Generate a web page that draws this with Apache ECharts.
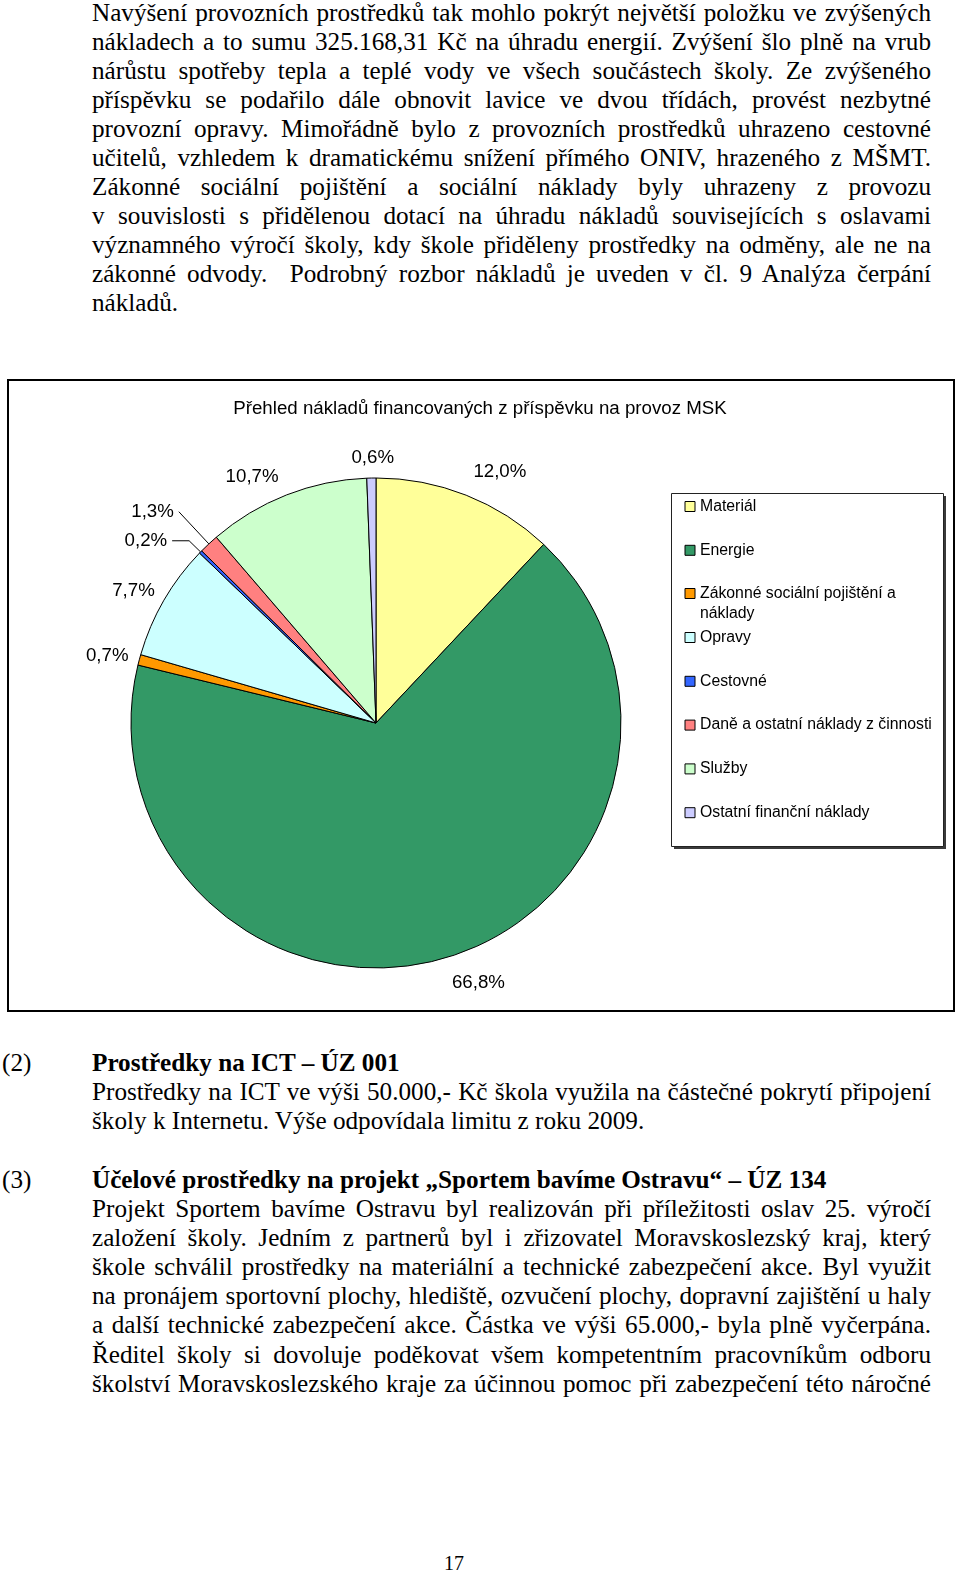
<!DOCTYPE html>
<html><head><meta charset="utf-8">
<script src="https://cdn.jsdelivr.net/npm/echarts@6/dist/echarts.min.js"></script>
<style>
html,body{margin:0;padding:0;background:#fff;}
body{width:960px;height:1574px;position:relative;overflow:hidden;font-family:"Liberation Serif","Times New Roman",serif;color:#000;}
.blk{position:absolute;left:92px;width:839px;font-size:25.2px;line-height:29.1px;}
.ln{height:29.1px;text-align:justify;text-align-last:justify;}
.last{text-align:left;text-align-last:left;}
.num{position:absolute;left:2px;font-size:25.2px;line-height:29.1px;}
h3{margin:0;font-size:25.2px;line-height:29.1px;font-weight:bold;}
#pg{position:absolute;left:0;width:908px;text-align:center;font-size:20px;line-height:24px;}
#chart{position:absolute;left:0;top:370px;width:960px;height:660px;}
</style></head>
<body>
<div class="blk" style="top:-2.5px">
<div class="ln">Navýšení provozních prostředků tak mohlo pokrýt největší položku ve zvýšených</div>
<div class="ln">nákladech a to sumu 325.168,31 Kč na úhradu energií. Zvýšení šlo plně na vrub</div>
<div class="ln">nárůstu spotřeby tepla a teplé vody ve všech součástech školy. Ze zvýšeného</div>
<div class="ln">příspěvku se podařilo dále obnovit lavice ve dvou třídách, provést nezbytné</div>
<div class="ln">provozní opravy. Mimořádně bylo z provozních prostředků uhrazeno cestovné</div>
<div class="ln">učitelů, vzhledem k dramatickému snížení přímého ONIV, hrazeného z MŠMT.</div>
<div class="ln">Zákonné sociální pojištění a sociální náklady byly uhrazeny z provozu</div>
<div class="ln">v souvislosti s přidělenou dotací na úhradu nákladů souvisejících s oslavami</div>
<div class="ln">významného výročí školy, kdy škole přiděleny prostředky na odměny, ale ne na</div>
<div class="ln">zákonné odvody. &nbsp;Podrobný rozbor nákladů je uveden v čl. 9 Analýza čerpání</div>
<div class="ln last">nákladů.</div>
</div>

<div class="num" style="top:1048px">(2)</div>
<div class="blk" style="top:1048px">
<h3>Prostředky na ICT – ÚZ 001</h3>
<div class="ln">Prostředky na ICT ve výši 50.000,- Kč škola využila na částečné pokrytí připojení</div>
<div class="ln last">školy k Internetu. Výše odpovídala limitu z roku 2009.</div>
</div>

<div class="num" style="top:1165px">(3)</div>
<div class="blk" style="top:1165px">
<h3>Účelové prostředky na projekt „Sportem bavíme Ostravu“ – ÚZ 134</h3>
<div class="ln">Projekt Sportem bavíme Ostravu byl realizován při příležitosti oslav 25. výročí</div>
<div class="ln">založení školy. Jedním z partnerů byl i zřizovatel Moravskoslezský kraj, který</div>
<div class="ln">škole schválil prostředky na materiální a technické zabezpečení akce. Byl využit</div>
<div class="ln">na pronájem sportovní plochy, hlediště, ozvučení plochy, dopravní zajištění u haly</div>
<div class="ln">a další technické zabezpečení akce. Částka ve výši 65.000,- byla plně vyčerpána.</div>
<div class="ln">Ředitel školy si dovoluje poděkovat všem kompetentním pracovníkům odboru</div>
<div class="ln">školství Moravskoslezského kraje za účinnou pomoc při zabezpečení této náročné</div>
</div>

<div id="pg" style="top:1551px">17</div>

<div id="chart"></div>
<script>
// ---- data ----
const chartTitle = 'Přehled nákladů financovaných z příspěvku na provoz MSK';
const categories = ['Materiál', 'Energie', 'Zákonné sociální pojištění a náklady', 'Opravy',
  'Cestovné', 'Daně a ostatní náklady z činnosti', 'Služby', 'Ostatní finanční náklady'];
const shares = [12.0, 66.8, 0.7, 7.7, 0.2, 1.3, 10.7, 0.6];

// ---- styles ----
const colors = ['#FFFF99', '#339966', '#FF9900', '#CCFFFF', '#3366FF', '#FF8080', '#CCFFCC', '#CCCCFF'];
const lineLen = [25, 25, 8, 6, 16, 44, 19, 20];
const lineLen2 = [0, 0, 0, 0, 17, 0, 0, 0];
const showLine = [false, false, false, false, true, true, false, false];
const nudge = [[-7, 0], [-6, 1], [2, -2], [1, -6], null, null, [4, 0], [28, 0]];
const FONT = '"Liberation Sans", Arial, sans-serif';

const chart = echarts.init(document.getElementById('chart'), null, {renderer: 'canvas'});

const pieData = categories.map((n, i) => ({
  name: n,
  value: shares[i],
  itemStyle: {color: colors[i]},
  labelLine: {show: showLine[i], length: lineLen[i], length2: lineLen2[i]}
}));

const legendBase = {
  orient: 'vertical',
  left: 684.5,
  padding: 0,
  itemWidth: 10,
  itemHeight: 10,
  itemGap: 23.8,
  icon: 'rect',
  selectedMode: false,
  itemStyle: {borderColor: '#000', borderWidth: 1},
  textStyle: {color: '#000', fontFamily: FONT, fontSize: 15.8, lineHeight: 20}
};

const LB = {x: 671.5, y: 123.5, w: 272, h: 353};

chart.setOption({
  animation: false,
  title: {
    text: chartTitle,
    left: 'center',
    top: 28,
    padding: 0,
    textStyle: {color: '#000', fontFamily: FONT, fontSize: 18.7, fontWeight: 'normal', lineHeight: 22}
  },
  graphic: [
    {type: 'rect', z: -10, shape: {x: 8, y: 10, width: 946, height: 631},
      style: {fill: '#fff', stroke: '#000', lineWidth: 2}, silent: true},
    {type: 'rect', z: -6, shape: {x: LB.x + 2.5, y: LB.y + 2.5, width: LB.w, height: LB.h},
      style: {fill: '#3a3a3a'}, silent: true},
    {type: 'rect', z: -5, shape: {x: LB.x, y: LB.y, width: LB.w, height: LB.h},
      style: {fill: '#fff', stroke: '#222', lineWidth: 1}, silent: true}
  ],
  legend: [
    Object.assign({}, legendBase, {top: 126.5, data: categories.slice(0, 2)}),
    Object.assign({}, legendBase, {
      top: 193.5, data: categories.slice(2, 3),
      formatter: n => '\n' + n.replace('pojištění a ', 'pojištění a\n')
    }),
    Object.assign({}, legendBase, {top: 257.5, data: categories.slice(3)})
  ],
  series: [{
    type: 'pie',
    center: [376, 353],
    radius: 245,
    startAngle: 90,
    clockwise: true,
    avoidLabelOverlap: false,
    silent: true,
    emphasis: {disabled: true},
    itemStyle: {borderColor: '#000', borderWidth: 1},
    label: {
      show: true,
      position: 'outside',
      color: '#000',
      fontFamily: FONT,
      fontSize: 18.7,
      distanceToLabelLine: 5,
      formatter: p => p.value.toFixed(1).replace('.', ',') + '%'
    },
    labelLine: {lineStyle: {color: '#000', width: 1}},
    labelLayout: p => {
      const d = nudge[p.dataIndex];
      return d ? {dx: d[0], dy: d[1]} : {};
    },
    data: pieData
  }]
});
</script>
</body></html>
